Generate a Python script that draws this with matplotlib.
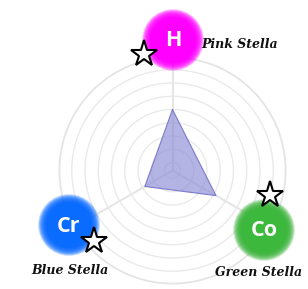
import numpy as np
import matplotlib
matplotlib.use("Agg")
import matplotlib.pyplot as plt
from matplotlib.patches import Circle

# data
categories = ["H", "Co", "Cr"]
values = [0.535, 0.44, 0.28]
names = ["Pink Stella", "Green Stella", "Blue Stella"]
colors = ["#ff00ff", "#3cb83c", "#0a6cff"]

W, H = 308, 289
fig = plt.figure(figsize=(W / 100, H / 100), dpi=100)

cx, cy, R = 172.5, 170.5, 114
ax = fig.add_axes([(cx - R) / W, (H - cy - R) / H, 2 * R / W, 2 * R / H], projection="polar")
ax.set_theta_zero_location("N")
ax.set_theta_direction(-1)
ax.set_ylim(0, 1)
ax.grid(False)
ax.set_xticks([])
ax.set_yticks([])
ax.spines["polar"].set_visible(False)
ax.patch.set_alpha(0)

t = np.linspace(0, 2 * np.pi, 400)
ring_r = [0.07 + 0.11625 * k for k in range(9)]
for i, r in enumerate(ring_r):
    if i == len(ring_r) - 1:
        ax.plot(t, np.full_like(t, r), color="#e4e4e4", lw=2.6, zorder=1)
    else:
        ax.plot(t, np.full_like(t, r), color="#eaeaea", lw=1.0, zorder=1)

angles = np.arange(len(categories)) * 2 * np.pi / len(categories)
for a in angles:
    ax.plot([a, a], [0, ring_r[-1]], color="#e6e6e6", lw=1.5, zorder=1)

th = np.concatenate([angles, angles[:1]])
vv = values + values[:1]
ax.fill(th, vv, color="#8c8cd6", alpha=0.65, zorder=2, lw=0)
ax.plot(th, vv, color="#7a7acc", lw=0.8, zorder=3)

# overlay for icons (pixel coordinates)
ov = fig.add_axes([0, 0, 1, 1])
ov.set_xlim(0, W)
ov.set_ylim(H, 0)
ov.axis("off")
ov.patch.set_alpha(0)

icon_pos = [(173, 40), (264, 230), (69, 225)]
star_pos = [(144, 54), (270, 195), (94, 241)]
label_pos = [(240, 44), (259, 273), (70, 271)]

for (x, y), c, sym in zip(icon_pos, colors, categories):
    for rr in np.linspace(31, 23, 32):
        ov.add_patch(Circle((x, y), rr, color=c, alpha=0.085, lw=0))
    ov.add_patch(Circle((x, y), 23, color=c, lw=0))
    ov.text(x, y + 1, sym, color="#fbfbfb", fontsize=15.5, fontweight="bold",
            ha="center", va="center", family="Open Sans")

for (x, y) in star_pos:
    ov.plot(x, y, marker="*", markersize=20, markerfacecolor="white",
            markeredgecolor="black", markeredgewidth=1.5)

for (x, y), n in zip(label_pos, names):
    ov.text(x, y, n, fontsize=9, fontstyle="italic", fontweight="bold",
            family="DejaVu Serif", ha="center", va="center", color="#111111")

fig.savefig("out.png", dpi=100)
